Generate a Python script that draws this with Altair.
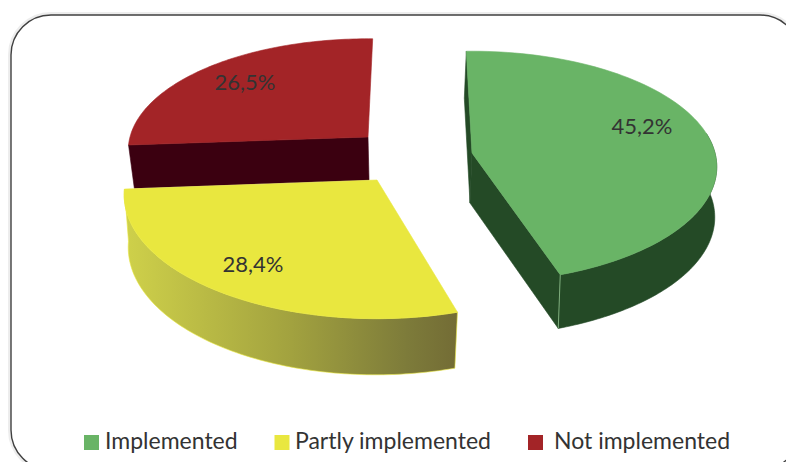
import numpy as np
import pandas as pd
import altair as alt

W, H = 786, 462

categories = ["Implemented", "Partly implemented", "Not implemented"]
shares = [45.2, 28.4, 26.5]
top_colors = ["#69b466", "#e9e73f", "#a32427"]

FONT = "Lato"
TEXT = "#333333"
DARK_GREEN = "#244a26"
DARK_RED = "#3b0010"

# Exploded-slice placement: hub position, radii, turn applied, wall offsets, lower rim width.
slices = {
    "Implemented": dict(cx=472, cy=153, a=243, b=114, nudge=0.0, dx=-2, dy=50, low=1.0),
    "Partly implemented": dict(cx=377, cy=180, a=251, b=122, nudge=2.3, dx=-1, dy=52, low=0.98),
    "Not implemented": dict(cx=368, cy=137, a=238, b=110, nudge=2.4, dx=1, dy=43, low=0.98),
}
FIRST_ANGLE = -1.5
PERSPECTIVE = 0.12

x_scale = alt.Scale(domain=[0, W], range=[0, W], nice=False, zero=False)
y_scale = alt.Scale(domain=[0, H], range=[0, H], nice=False, zero=False)
X = alt.X("x:Q", scale=x_scale, axis=None)
Y = alt.Y("y:Q", scale=y_scale, axis=None)


def rim(s, t0, t1, lower=False):
    """Points along a slice's edge, viewed in perspective (angles clockwise from the back)."""
    t = np.radians(np.linspace(t0, t1, 90))
    persp = 1 / (1 + PERSPECTIVE * np.cos(t))
    a = s["a"] * (s["low"] if lower else 1)
    b = s["b"] * (1.03 if lower else 1)
    ox, oy = (s["dx"], s["dy"]) if lower else (0, 0)
    return list(zip(s["cx"] + ox + a * np.sin(t) * persp,
                    s["cy"] + oy - b * np.cos(t) * persp))


def polygon(points, **mark_kw):
    df = pd.DataFrame(points, columns=["x", "y"]).assign(i=lambda d: range(len(d)))
    kw = dict(interpolate="linear-closed", filled=True, strokeWidth=0.6, clip=True)
    kw.update(mark_kw)
    return alt.Chart(df).mark_line(**kw).encode(x=X, y=Y, order="i:Q")


# Angular extent of each slice from the shares
angles = {}
start = FIRST_ANGLE
for name, share in zip(categories, shares):
    sweep = share * 3.6
    angles[name] = (start + slices[name]["nudge"], start + slices[name]["nudge"] + sweep)
    start += sweep


def top_face(name, color):
    s = slices[name]
    t0, t1 = angles[name]
    return polygon([(s["cx"], s["cy"])] + rim(s, t0, t1), fill=color, stroke=color)


def outer_wall(name, fill, stroke, from_angle=None):
    s = slices[name]
    t0, t1 = angles[name]
    if from_angle is not None:
        t0 = from_angle
    return polygon(rim(s, t0, t1) + rim(s, t0, t1, lower=True)[::-1], fill=fill, stroke=stroke)


def cut_face(name, at_start, color):
    s = slices[name]
    t = angles[name][0 if at_start else 1]
    hub = (s["cx"], s["cy"])
    hub_low = (s["cx"] + s["dx"], s["cy"] + s["dy"])
    return polygon([hub, rim(s, t, t)[0], rim(s, t, t, lower=True)[0], hub_low],
                   fill=color, stroke=color)


yellow_side = alt.Gradient(
    gradient="linear", x1=0, x2=1, y1=0, y2=0,
    stops=[alt.GradientStop(offset=0, color="#cfd14a"),
           alt.GradientStop(offset=0.5, color="#a2a23f"),
           alt.GradientStop(offset=0.85, color="#7d7b3a"),
           alt.GradientStop(offset=1, color="#736c35")],
)

# Rounded frame, running past the lower and right edges of the page
frame = pd.DataFrame({"x": [11], "x2": [800], "y": [15], "y2": [470]})
halo_layer = alt.Chart(frame).mark_rect(
    cornerRadius=40, fill="#ffffff", stroke="#e6e6e6", strokeWidth=6, clip=True, opacity=0.7
).encode(x=X, x2="x2:Q", y=Y, y2="y2:Q")
frame_layer = alt.Chart(frame).mark_rect(
    cornerRadius=40, fill="#ffffff", stroke="#404040", strokeWidth=1.4, clip=True
).encode(x=X, x2="x2:Q", y=Y, y2="y2:Q")

implemented, partly, not_impl = categories
green_t1 = angles[implemented][1]
g = slices[implemented]
seam = pd.DataFrame([rim(g, green_t1, green_t1)[0],
                     rim(g, green_t1, green_t1, lower=True)[0]], columns=["x", "y"])
seam_layer = alt.Chart(seam).mark_line(color="#7fae7d", strokeWidth=1).encode(x=X, y=Y)

# Percentage labels
label_x = [642, 253, 245]
label_y = [127, 265, 83]
labels = pd.DataFrame({
    "x": label_x, "y": label_y,
    "t": [f"{v:.1f}".replace(".", ",") + "%" for v in shares],
})
label_layer = alt.Chart(labels).mark_text(
    font=FONT, fontSize=22, color=TEXT, align="center", baseline="middle"
).encode(x=X, y=Y, text="t:N")

# Legend row
swatch_x = [91.5, 282, 535.5]
legend_text_x = [105, 295, 554]
legend_y = 442
legend = pd.DataFrame({"x": swatch_x, "tx": legend_text_x, "y": legend_y,
                       "name": categories, "c": top_colors})
swatch_layer = alt.Chart(legend).mark_point(
    shape="square", filled=True, size=225, opacity=1
).encode(x=X, y=alt.Y("sy:Q", scale=y_scale, axis=None),
         color=alt.Color("c:N", scale=None)).transform_calculate(sy="datum.y + 0.5")
legend_text_layer = alt.Chart(legend).mark_text(
    font=FONT, fontSize=23, color=TEXT, align="left", baseline="middle"
).encode(x=alt.X("tx:Q", scale=x_scale, axis=None), y=Y, text="name:N")

chart = alt.layer(
    halo_layer,
    frame_layer,
    cut_face(not_impl, True, DARK_RED),
    top_face(not_impl, top_colors[2]),
    outer_wall(partly, yellow_side, "#e9e73f"),
    top_face(partly, top_colors[1]),
    cut_face(implemented, True, DARK_GREEN),
    outer_wall(implemented, DARK_GREEN, DARK_GREEN, from_angle=80),
    cut_face(implemented, False, DARK_GREEN),
    seam_layer,
    top_face(implemented, top_colors[0]),
    label_layer,
    swatch_layer,
    legend_text_layer,
).properties(
    width=W, height=H, padding=0, autosize=alt.AutoSizeParams(type="none"),
    background="#ffffff",
).configure_view(stroke=None)

chart.save("out.html", embed_options={"renderer": "svg", "actions": False})
